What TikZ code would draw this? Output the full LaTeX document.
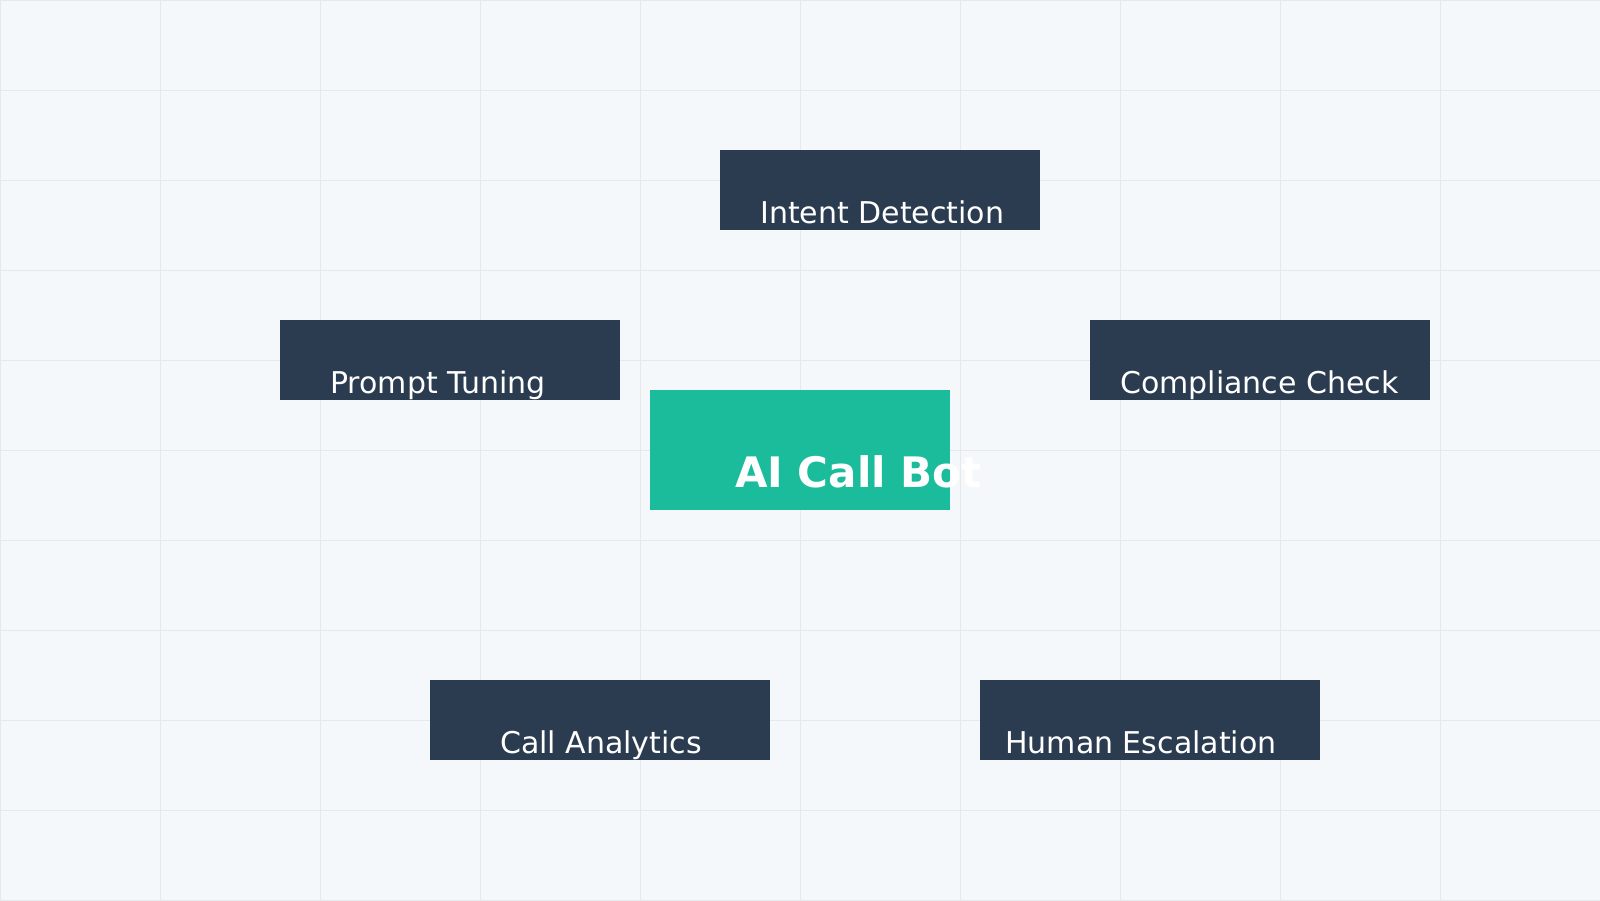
\documentclass[tikz,border=0pt]{standalone}
\usepackage{fontspec}
\setmainfont{DejaVu Sans}
\definecolor{bgc}{HTML}{F5F8FA}
\definecolor{gridc}{HTML}{E5E9EB}
\definecolor{darkc}{HTML}{2B3C50}
\definecolor{tealc}{HTML}{1ABC9C}
\tikzset{
  gridline/.style={gridc, line width=1pt},
  box/.style={draw=none, fill=darkc, rectangle, inner sep=0pt, minimum width=#1, minimum height=80pt, anchor=north west},
  box/.default=340pt,
  hub/.style={draw=none, fill=tealc, rectangle, inner sep=0pt, minimum width=300pt, minimum height=120pt, anchor=north west},
  lbl/.style={text=white, inner sep=0pt, anchor=base west, font=\fontsize{30}{36}\selectfont},
  hublbl/.style={text=white, inner sep=0pt, anchor=base west, font=\fontsize{42}{50}\selectfont\bfseries},
}
\begin{document}
\begin{tikzpicture}[x=1pt, y=-1pt]
\useasboundingbox (0,0) rectangle (1600,900);
\fill[bgc] (0,0) rectangle (1600,900);
\foreach \gx in {0,160,...,1600} \draw[gridline] (\gx,0) -- (\gx,900);
\foreach \gy in {0,90,...,900} \draw[gridline] (0,\gy) -- (1600,\gy);
% boxes
\node[box=320pt] (intent) at (720,150) {};
\node[box] (prompt) at (280,320) {};
\node[box] (compliance) at (1090,320) {};
\node[hub] (bot) at (650,390) {};
\node[box] (analytics) at (430,680) {};
\node[box] (human) at (980,680) {};
% labels
\node[lbl] (intentlbl) at (760,223) {Intent Detection};
\node[lbl] (promptlbl) at (330,393) {Prompt Tuning};
\node[lbl] (compliancelbl) at (1120,393) {Compliance Check};
\node[hublbl] (botlbl) at (735,487) {AI Call Bot};
\node[lbl] (analyticslbl) at (500,753) {Call Analytics};
\node[lbl] (humanlbl) at (1005,753) {Human Escalation};
\end{tikzpicture}
\end{document}
